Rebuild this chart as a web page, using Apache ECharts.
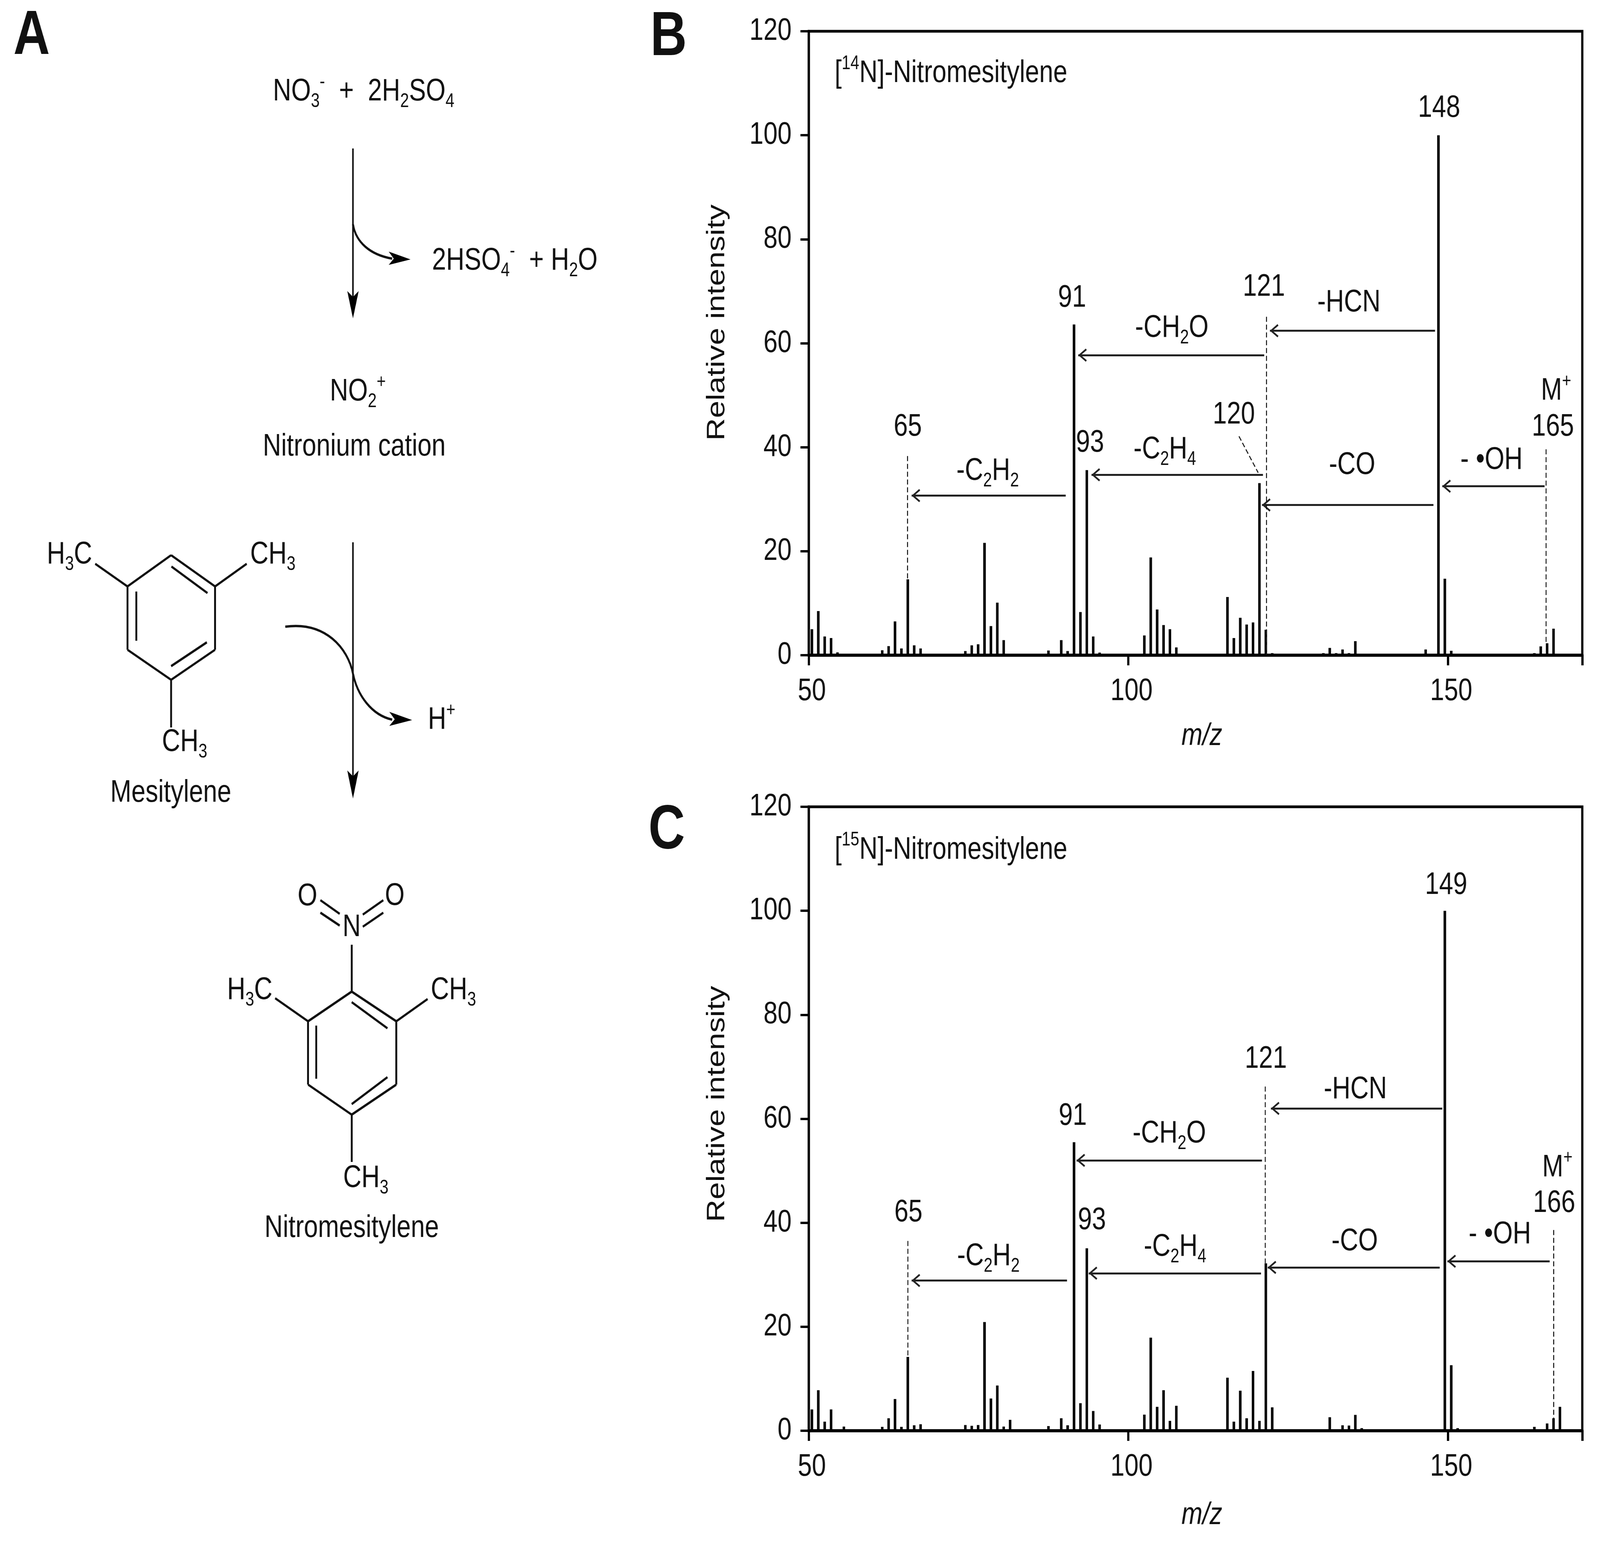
<!DOCTYPE html>
<html><head><meta charset="utf-8">
<style>html,body{margin:0;padding:0;background:#fff;overflow:hidden}#c{width:5059px;height:3957px;transform-origin:0 0}</style>
<script src="https://cdn.jsdelivr.net/npm/echarts@6/dist/echarts.min.js"></script>
</head><body><div id="c"></div>
<script>
const xTickEvery = 50;
const yTickMax = 120;

const mzB = [50,51,52,53,54,61,62,63,64,65,66,67,74,75,76,77,78,79,80,85,86,87,89,90,91,92,93,94,95,102,103,104,105,106,107,115,116,117,118,119,120,121,122,130,131,132,133,134,135,136,146,148,149,150,163,164,165,166];
const intensityB = [5,8.5,3.6,3.3,0.55,0.95,1.75,6.5,1.3,14.6,1.9,1.3,0.8,1.9,2.1,21.6,5.6,10.1,2.9,0.3,0.2,0.9,2.9,0.8,63.6,8.3,35.6,3.6,0.5,3.8,18.8,8.8,5.8,5,1.5,11.2,3.3,7.2,5.9,6.3,33.1,4.9,0.4,0.4,1.4,0.4,1.1,0.4,2.7,0.15,1.1,100,14.7,0.85,0.4,1.7,2.3,5.1];

const mzC = [50,51,52,53,55,57,61,62,63,64,65,66,67,70,74,75,76,77,78,79,80,81,82,87,89,90,91,92,93,94,95,102,103,104,105,106,107,108,115,116,117,118,119,120,121,122,131,133,134,135,136,147,149,150,151,163,164,165,166,167];
const intensityC = [4.1,7.8,1.75,4.1,0.8,0.1,0.75,2.4,6.1,0.75,14.2,1.05,1.25,0.3,1.1,0.95,1.1,20.9,6.2,8.7,0.8,2.1,0.3,0.9,2.4,1.05,55.5,5.3,35.1,3.8,1.2,3.1,17.9,4.6,7.8,1.9,4.8,0.3,10.2,1.75,7.7,2.4,11.5,1.9,32.2,4.5,2.6,1.05,1.0,3.05,0.5,0.25,100,12.6,0.5,0.75,0.1,1.4,2.4,4.6];

// annotations in data units: [x from, x to, y]
const arrowsB = [[147.97,122.14,62.4],[121.25,92.16,57.7],[121.05,94.24,34.7],[147.72,120.9,28.9],[165.1,149.1,32.5],[90.2,66.1,30.7]];
const arrowsC = [[149.1,122.3,62.0],[120.9,91.9,52.0],[120.75,93.8,30.3],[148.7,121.8,31.4],[165.9,149.9,32.6],[90.4,66.1,28.9]];
// dashed guides: [x1, y1, x2, y2]
const dashesB = [[65.44,38.3,65.44,14.6],[121.6,65.1,121.6,0],[165.3,39.6,165.3,2.3],[117.3,42.1,120.3,35.1]];
const dashesC = [[65.5,36.5,65.5,14.2],[121.4,66.2,121.4,32.2],[166.5,38.6,166.5,2.4]];
// labels: [x, y, text]
const labelsB = [[148.6,105.2,'148'],[91.2,68.7,'91'],[121.2,70.8,'121'],[134.5,67.8,'-HCN'],[106.8,62.9,'-CH{s|2}O'],[116.5,46.2,'120'],[65.5,43.9,'65'],[94.0,40.8,'93'],[105.7,39.5,'-C{s|2}H{s|4}'],[78.0,35.4,'-C{s|2}H{s|2}'],[135.0,36.5,'-CO'],[156.8,37.5,'- •OH'],[166.9,50.8,'M{u|+}'],[166.4,43.9,'165']];
const labelsC = [[149.7,104.9,'149'],[121.5,71.5,'121'],[135.5,65.6,'-HCN'],[91.3,60.5,'91'],[106.4,57.1,'-CH{s|2}O'],[167.1,50.6,'M{u|+}'],[166.6,43.7,'166'],[65.6,41.9,'65'],[94.3,40.4,'93'],[135.4,36.4,'-CO'],[158.1,37.7,'- •OH'],[107.3,35.3,'-C{s|2}H{s|4}'],[78.1,33.5,'-C{s|2}H{s|2}']];
const titlesB = [[54.06,111.9,'[{u|14}N]-Nitromesitylene']];
const titlesC = [[54.06,111.7,'[{u|15}N]-Nitromesitylene']];

const FONT = '"Liberation Sans", Arial, sans-serif';
const FS = 80;
const rich = {
  s: {fontSize: 50, fontFamily: FONT, color: '#111', lineHeight: 46, verticalAlign: 'bottom'},
  u: {fontSize: 50, fontFamily: FONT, color: '#111', lineHeight: 46, verticalAlign: 'top'}
};
const categories = [];
for (let m = 50; m <= 170; m++) categories.push(String(m));
const toValues = (mz, vals) => categories.map(c => { const i = mz.indexOf(+c); return i < 0 ? 0 : vals[i]; });

const HEAD = 'path://M0 0L17 24L13 27L0 8L-13 27L-17 24ZM0 -27L0 -27Z';

function panelSeries(idx, mz, vals, arrows, dashes, labels, titles) {
  const xv = idx * 2 + 1;
  const mkLabel = (arr, align) => ({
    type: 'scatter', xAxisIndex: xv, yAxisIndex: idx, symbolSize: 1, silent: true, z: 6,
    itemStyle: {color: 'rgba(0,0,0,0)', opacity: 1},
    label: {show: true, position: 'inside', align, verticalAlign: 'middle', color: '#111', fontFamily: FONT, fontSize: FS, lineHeight: 100, rich, formatter: p => p.data[2]},
    data: arr
  });
  return [
    {type: 'bar', xAxisIndex: idx * 2, yAxisIndex: idx, data: toValues(mz, vals), barWidth: 8, itemStyle: {color: '#000'}, silent: true, z: 3},
    {type: 'scatter', xAxisIndex: xv, yAxisIndex: idx, data: [], silent: true,
      markLine: {silent: true, symbol: ['none', HEAD], symbolSize: [34, 54], label: {show: false}, lineStyle: {color: '#222', width: 5, type: 'solid'}, animation: false,
        data: arrows.map(a => [{coord: [a[0], a[2]]}, {coord: [a[1], a[2]]}])}},
    {type: 'scatter', xAxisIndex: xv, yAxisIndex: idx, data: [], silent: true,
      markLine: {silent: true, symbol: 'none', label: {show: false}, lineStyle: {color: '#111', width: 3, type: [13, 7]}, animation: false,
        data: dashes.map(d => [{coord: [d[0], d[1]]}, {coord: [d[2], d[3]]}])}},
    mkLabel(labels, 'center'),
    mkLabel(titles, 'left')
  ];
}

function catAxis(g, nameGap) {
  return {type: 'category', gridIndex: g, data: categories, boundaryGap: true, position: 'bottom',
    axisLine: {show: true, onZero: false, lineStyle: {color: '#000', width: 8}},
    axisTick: {show: true, inside: false, alignWithLabel: false, interval: xTickEvery - 1, length: 26, lineStyle: {color: '#000', width: 7}},
    axisLabel: {interval: xTickEvery - 1, margin: 53, color: '#111', fontFamily: FONT, fontSize: FS},
    name: 'm/z', nameLocation: 'middle', nameGap, nameTextStyle: {color: '#111', fontFamily: FONT, fontSize: FS, fontStyle: 'italic', padding: [0, 0, 0, 40]}};
}
function valAxis(g) {
  return {type: 'value', gridIndex: g, min: 50, max: 171, position: 'bottom', show: false};
}
function yAxis(g, shift) {
  return {type: 'value', gridIndex: g, min: 0, max: yTickMax, interval: 20,
    axisLine: {show: true, lineStyle: {color: '#000', width: 7}}, splitLine: {show: false},
    axisTick: {show: true, length: 26, lineStyle: {color: '#000', width: 6}},
    axisLabel: {margin: 54, color: '#111', fontFamily: FONT, fontSize: FS},
    name: 'Relative intensity', nameLocation: 'middle', nameGap: 249,
    nameTextStyle: {color: '#111', fontFamily: FONT, fontSize: FS, padding: [0, 0, 0, shift]}};
}

// ---- Panel A schematic ----
const gfx = [];
const ln = (x1, y1, x2, y2, w = 6) => gfx.push({type: 'line', shape: {x1, y1, x2, y2}, style: {stroke: '#111', lineWidth: w}, silent: true});
const poly = (points) => gfx.push({type: 'polygon', shape: {points}, style: {fill: '#000'}, silent: true});
const bez = (x1, y1, cpx1, cpy1, cpx2, cpy2, x2, y2) => gfx.push({type: 'bezierCurve', shape: {x1, y1, cpx1, cpy1, cpx2, cpy2, x2, y2}, style: {stroke: '#111', lineWidth: 6, fill: null}, silent: true});
const tx = (text, x, y, align = 'center', size = FS, weight = 'normal') => gfx.push({type: 'text', x, y, silent: true, style: {text, fill: '#111', align, verticalAlign: 'middle', fontFamily: FONT, fontSize: size, fontWeight: weight, lineHeight: 100, rich}});

tx('A', 100, 94, 'center', 160, 'bold');
tx('B', 2114, 97, 'center', 160, 'bold');
tx('C', 2108, 2127, 'center', 160, 'bold');

tx('NO{s|3}{u|-}  +  2H{s|2}SO{s|4}', 863, 235, 'left');
ln(1116, 380, 1116, 770, 5);
poly([[1116, 815], [1098, 745], [1116, 760], [1134, 745]]);
bez(1116, 574, 1125, 620, 1170, 652, 1240, 662);
poly([[1298, 664], [1229, 644], [1245, 662], [1229, 678]]);
tx('2HSO{s|4}{u|-}  + H{s|2}O', 1366, 668, 'left');
tx('NO{s|2}{u|+}', 1043, 1003, 'left');
tx('Nitronium cation', 1120, 1144);

const ringA = [[541,1421],[680,1501],[680,1663],[541,1740],[403,1663],[403,1501]];
ringA.forEach((p, i) => { const q = ringA[(i + 1) % 6]; ln(p[0], p[1], q[0], q[1]); });
ln(542, 1450, 656, 1518); ln(431, 1514, 431, 1640); ln(541, 1705, 654, 1644);
ln(403, 1501, 301, 1443); ln(680, 1501, 780, 1443); ln(541, 1740, 541, 1862);
tx('H{s|3}C', 148, 1420, 'left');
tx('CH{s|3}', 791, 1420, 'left');
tx('CH{s|3}', 512, 1900, 'left');
tx('Mesitylene', 540, 2030);
ln(1116, 1388, 1116, 2000, 5);
poly([[1116, 2044], [1098, 1972], [1116, 1987], [1134, 1972]]);
bez(902, 1604, 1030, 1590, 1100, 1660, 1116, 1724);
bez(1116, 1724, 1130, 1780, 1175, 1830, 1240, 1842);
poly([[1303, 1843], [1231, 1822], [1248, 1841], [1231, 1858]]);
tx('H{u|+}', 1353, 1843, 'left');

tx('O', 972, 2295); tx('O', 1248, 2294); tx('N', 1112, 2374);
ln(1013, 2304, 1074, 2339); ln(1013, 2336, 1074, 2369);
ln(1212, 2304, 1147, 2341); ln(1212, 2336, 1147, 2372);
ln(1112, 2418, 1112, 2538);
const ringB = [[1112,2538],[1253,2614],[1253,2776],[1112,2853],[974,2776],[974,2614]];
ringB.forEach((p, i) => { const q = ringB[(i + 1) % 6]; ln(p[0], p[1], q[0], q[1]); });
ln(1112, 2565, 1225, 2632); ln(1000, 2625, 1000, 2761); ln(1112, 2826, 1225, 2757);
ln(974, 2614, 870, 2555); ln(1253, 2614, 1352, 2557); ln(1112, 2853, 1112, 2974);
tx('H{s|3}C', 718, 2535, 'left');
tx('CH{s|3}', 1362, 2535, 'left');
tx('CH{s|3}', 1085, 3016, 'left');
tx('Nitromesitylene', 1112, 3144);

// The browser window may be narrower than the 5059 px design width (it reports 4096);
// fit the whole figure into it horizontally so that nothing is cut off.
const box = document.getElementById('c');
if (window.innerWidth < 5059) box.style.transform = 'scaleX(' + (window.innerWidth / 5059) + ')';

const chart = echarts.init(box, null, {renderer: 'canvas', devicePixelRatio: 1});
chart.setOption({
  animation: false,
  backgroundColor: '#fff',
  grid: [
    {left: 2557, top: 80, width: 2446, height: 1597, show: true, borderColor: '#000', borderWidth: 7, backgroundColor: 'transparent'},
    {left: 2557, top: 2065, width: 2446, height: 1597, show: true, borderColor: '#000', borderWidth: 7, backgroundColor: 'transparent'}
  ],
  xAxis: [catAxis(0, 168), valAxis(0), catAxis(1, 177), valAxis(1)],
  yAxis: [yAxis(0, 106), yAxis(1, 76)],
  series: [
    ...panelSeries(0, mzB, intensityB, arrowsB, dashesB, labelsB, titlesB),
    ...panelSeries(1, mzC, intensityC, arrowsC, dashesC, labelsC, titlesC)
  ],
  graphic: {elements: gfx}
});
</script></body></html>
